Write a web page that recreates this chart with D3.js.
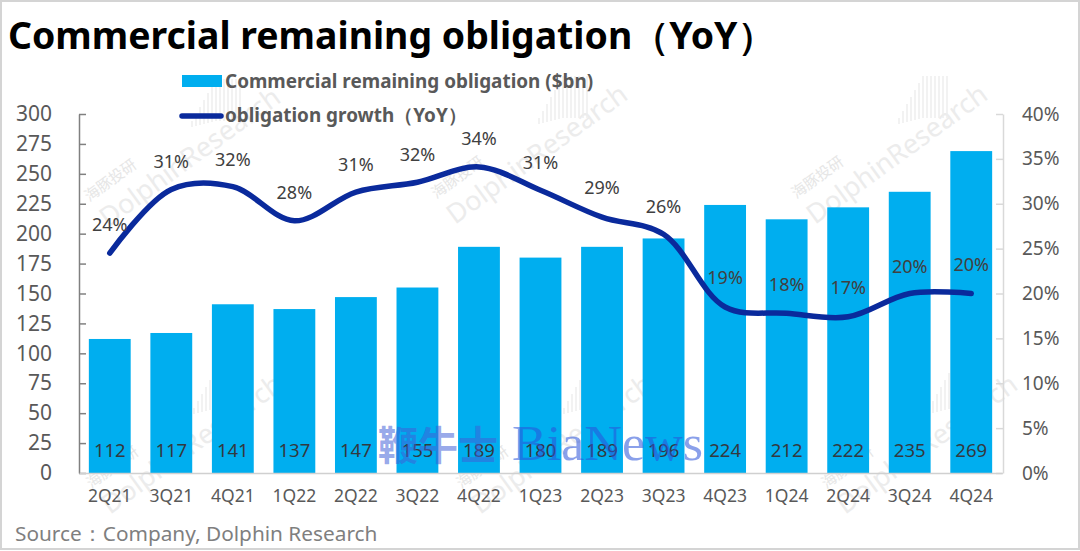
<!DOCTYPE html>
<html><head><meta charset="utf-8">
<script src="https://cdnjs.cloudflare.com/ajax/libs/d3/7.8.5/d3.min.js"></script>
<style>html,body{margin:0;padding:0;background:#fff;overflow:hidden}svg{display:block}text{font-family:"Noto Sans","Open Sans",sans-serif}</style>
</head><body><svg id="c" width="1080" height="551"></svg>
<script>
const categories=["2Q21","3Q21","4Q21","1Q22","2Q22","3Q22","4Q22","1Q23","2Q23","3Q23","4Q23","1Q24","2Q24","3Q24","4Q24"];
const obligation=[112,117,141,137,147,155,189,180,189,196,224,212,222,235,269];
const growthLine=[24.5,31.6,31.9,28.1,31.3,32.4,34.1,31.5,28.5,26.6,18.5,17.8,17.4,20,20];
const growthLabels=["24%","31%","32%","28%","31%","32%","34%","31%","29%","26%","19%","18%","17%","20%","20%"];
const leftTicks=d3.range(0,301,25);
const rightTicks=d3.range(0,41,5);
const labelGap=[22,21,21,22,21,21,22,21,23,21,23,22,23,21,23];

const svg=d3.select("#c");
const x=d3.scaleBand().domain(categories).range([79,1002]).paddingInner(0.32).paddingOuter(0.16);
const y=d3.scaleLinear().domain([0,300]).range([473,114]);
const y2=d3.scaleLinear().domain([0,40]).range([473,114]);
const cx=d=>x(d)+x.bandwidth()/2;

// frame
svg.append("rect").attr("x",1).attr("y",1).attr("width",1078).attr("height",548).attr("fill","#fff").attr("stroke","#d4d4d4").attr("stroke-width",2);

// watermarks sit under the bars
const wm=svg.append("g");
[[108,228],[455,225],[815,225],[110,515],[480,515],[845,515]].forEach(p=>{
 const g=wm.append("g").attr("transform",`translate(${p[0]},${p[1]}) rotate(-36)`);
 g.append("text").attr("font-size",27).attr("fill","#ececec").text("DolphinResearch");
 g.append("text").attr("x",0).attr("y",-32).attr("font-size",15).attr("fill","#e6e6e6")
  .style("font-family","'Noto Sans CJK SC'").text("海豚投研");
 const s=wm.append("g").attr("transform",`translate(${p[0]+80},${p[1]-100})`);
 d3.range(14).forEach(k=>s.append("line").attr("x1",k*4).attr("x2",k*4).attr("y1",-Math.min(k,7)*7).attr("y2",-Math.min(k,7)*1).attr("stroke","#eeeeee").attr("stroke-width",1.5));
});

svg.selectAll(".bar").data(obligation).join("rect").attr("x",(d,i)=>x(categories[i])).attr("y",d=>y(d))
 .attr("width",x.bandwidth()).attr("height",d=>y(0)-y(d)).attr("fill","#00aeef");

function styleAxis(g,col){g.selectAll("path,line").attr("stroke",col).attr("stroke-width",1.5);g.select("path").attr("fill","none");}
const ax=svg.append("g").attr("transform","translate(79,0)").call(d3.axisLeft(y).tickValues(leftTicks).tickSize(-7).tickSizeOuter(0));
styleAxis(ax,"#808080");
ax.selectAll("text").attr("font-size",21).attr("fill","#595959").attr("x",-27);
const ar=svg.append("g").attr("transform","translate(1003,0)").call(d3.axisRight(y2).tickValues(rightTicks).tickFormat(d=>d+"%").tickSize(-7).tickSizeOuter(0));
styleAxis(ar,"#d9d9d9");
ar.selectAll("text").attr("font-size",19).attr("fill","#595959").attr("x",19);
const ab=svg.append("g").attr("transform","translate(0,473)").call(d3.axisBottom(x).tickSize(0).tickPadding(17));
styleAxis(ab,"#d0d0d0");
ab.selectAll("text").attr("font-size",17.5).attr("fill","#595959");

// bar labels
svg.selectAll(".bl").data(obligation).join("text").attr("x",(d,i)=>cx(categories[i])).attr("y",457)
 .attr("text-anchor","middle").attr("font-size",18.5).attr("fill","#33393f").text(d=>d);

// line
const line=d3.line().x((d,i)=>cx(categories[i])).y(d=>y2(d)).curve(d3.curveCatmullRom.alpha(0.5));
svg.append("path").datum(growthLine).attr("d",line).attr("fill","none").attr("stroke","#0a2a9c").attr("stroke-width",5.5).attr("stroke-linecap","round");

svg.selectAll(".ll").data(growthLabels).join("text").attr("x",(d,i)=>cx(categories[i])).attr("y",(d,i)=>y2(growthLine[i])-labelGap[i])
 .attr("text-anchor","middle").attr("font-size",18).attr("fill","#404040").text(d=>d);

// legend
svg.append("rect").attr("x",182).attr("y",75).attr("width",40).attr("height",12).attr("fill","#00aeef");
svg.append("line").attr("x1",182).attr("x2",221).attr("y1",116).attr("y2",116).attr("stroke","#0a2a9c").attr("stroke-width",5.5).attr("stroke-linecap","round");
svg.append("text").attr("x",225).attr("y",88).attr("font-size",18.9).attr("font-weight",700).attr("fill","#595959").text("Commercial remaining obligation ($bn)");
svg.append("text").attr("x",225).attr("y",122).attr("font-size",18.9).attr("font-weight",700).attr("fill","#595959").text("obligation growth（YoY）");

// title, source, mark
svg.append("text").attr("x",8).attr("y",49).attr("font-size",37.4).attr("font-weight",700).attr("fill","#000").text("Commercial remaining obligation（YoY）");
svg.append("text").attr("x",15).attr("y",541).attr("font-size",20.8).attr("fill","#7f7f7f").text("Source：Company, Dolphin Research");
svg.append("text").attr("x",378).attr("y",460).attr("font-size",40).attr("font-weight",700).attr("fill","#3f5fd8").attr("fill-opacity",.55)
 .style("font-family","'Noto Sans CJK SC'").text("鞭牛士");
svg.append("text").attr("x",512).attr("y",460).attr("font-size",50).attr("fill","#2a52d8").attr("fill-opacity",.55)
 .style("font-family","'Liberation Serif'").attr("textLength",191).attr("lengthAdjust","spacingAndGlyphs").text("BiaNews");
</script></body></html>
